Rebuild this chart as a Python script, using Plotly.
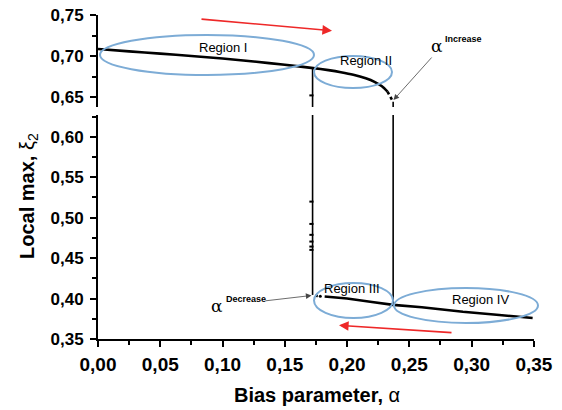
import plotly.graph_objects as go

# ---------------- data ----------------
alpha_up = [0.0, 0.025, 0.05, 0.075, 0.10, 0.125, 0.15, 0.1729, 0.185, 0.195, 0.205, 0.215, 0.222, 0.228, 0.2325]
xi_up = [0.7086, 0.7058, 0.7030, 0.7001, 0.6970, 0.6934, 0.6894, 0.6853, 0.6828, 0.6803, 0.6772, 0.6728, 0.6685, 0.6630, 0.6565]
alpha_up_dot = [0.2325, 0.2345, 0.2360, 0.2370]
xi_up_dot = [0.6565, 0.6505, 0.6465, 0.6440]

alpha_lo = [0.182, 0.20, 0.22, 0.237, 0.26, 0.293, 0.32, 0.349]
xi_lo = [0.4026, 0.4000, 0.3958, 0.3922, 0.3893, 0.3836, 0.3800, 0.3759]
alpha_lo_dash = [0.1745, 0.1765]
xi_lo_dash = [0.4035, 0.4032]

alpha_jump_down = 0.1723   # alpha^Decrease
alpha_jump_up = 0.2370     # alpha^Increase
scatter_top = [0.6519]
scatter_bot = [0.5199, 0.4923, 0.4788, 0.4705, 0.4643, 0.4602]

x_ticks = [0.0, 0.05, 0.10, 0.15, 0.20, 0.25, 0.30, 0.35]

# ---------------- geometry helpers (pixel -> paper) ----------------
W, H = 562, 410
ML, MR, MT, MB = 98, 28, 15, 71
PW, PH = W - ML - MR, H - MT - MB


def px(x):
    return (x - ML) / PW


def py(y):
    return (H - MB - y) / PH


BLACK = "black"
BLUE = "rgb(125,172,214)"
RED = "rgb(238,40,40)"

fig = go.Figure()

# upper branch (top sub-axis)
fig.add_trace(go.Scatter(x=alpha_up, y=xi_up, yaxis="y2", mode="lines",
                         line=dict(color=BLACK, width=2.6, shape="spline", smoothing=0.6),
                         hoverinfo="skip"))
fig.add_trace(go.Scatter(x=alpha_up_dot, y=xi_up_dot, yaxis="y2", mode="lines",
                         line=dict(color=BLACK, width=2.6, dash="dot"), hoverinfo="skip"))
# vertical jumps, top part
fig.add_trace(go.Scatter(x=[alpha_jump_down, alpha_jump_down], y=[xi_up[7], 0.60], yaxis="y2",
                         mode="lines", line=dict(color=BLACK, width=1.6), hoverinfo="skip"))
fig.add_trace(go.Scatter(x=[alpha_jump_up, alpha_jump_up], y=[xi_up_dot[-1], 0.60], yaxis="y2",
                         mode="lines", line=dict(color=BLACK, width=1.6), hoverinfo="skip"))
fig.add_trace(go.Scatter(x=[alpha_jump_down - 0.0009] * len(scatter_top), y=scatter_top, yaxis="y2",
                         mode="markers", marker=dict(symbol="line-ew", size=3,
                                                     line=dict(color=BLACK, width=2)),
                         hoverinfo="skip"))
# vertical jumps, bottom part
fig.add_trace(go.Scatter(x=[alpha_jump_down, alpha_jump_down], y=[0.70, 0.4045], yaxis="y",
                         mode="lines", line=dict(color=BLACK, width=1.6), hoverinfo="skip"))
fig.add_trace(go.Scatter(x=[alpha_jump_up, alpha_jump_up], y=[0.70, xi_lo[3]], yaxis="y",
                         mode="lines", line=dict(color=BLACK, width=1.6), hoverinfo="skip"))
fig.add_trace(go.Scatter(x=[alpha_jump_down - 0.0009] * len(scatter_bot), y=scatter_bot, yaxis="y",
                         mode="markers", marker=dict(symbol="line-ew", size=3,
                                                     line=dict(color=BLACK, width=2)),
                         hoverinfo="skip"))
# lower branch
fig.add_trace(go.Scatter(x=alpha_lo, y=xi_lo, yaxis="y", mode="lines",
                         line=dict(color=BLACK, width=2.6), hoverinfo="skip"))
fig.add_trace(go.Scatter(x=alpha_lo_dash, y=xi_lo_dash, yaxis="y", mode="lines",
                         line=dict(color=BLACK, width=2.6), hoverinfo="skip"))
fig.add_trace(go.Scatter(x=[0.1785], y=[0.4030], yaxis="y", mode="markers",
                         marker=dict(color=BLACK, size=3), hoverinfo="skip"))

# ---------------- ellipses ----------------
ellipses = [(100, 35, 314, 75), (314, 56, 392, 88), (314, 283, 393, 318), (394, 288, 538, 323)]
for (x0, y0, x1, y1) in ellipses:
    fig.add_shape(type="circle", xref="paper", yref="paper",
                  x0=px(x0), x1=px(x1), y0=py(y1), y1=py(y0),
                  line=dict(color=BLUE, width=2), layer="above")

# ---------------- annotations ----------------
ann = []
for text, x, y in [("Region I", 223, 47), ("Region II", 366, 61),
                   ("Region III", 352, 288), ("Region IV", 480, 299)]:
    ann.append(dict(text=text, x=px(x), y=py(y), xref="paper", yref="paper",
                    showarrow=False, xanchor="center", yanchor="middle",
                    font=dict(family="Liberation Sans, Arial", size=13, color=BLACK)))

# red arrows
for (tx, ty, hx, hy) in [(200, 19, 332, 30.7), (453, 332.7, 339, 325.3)]:
    ann.append(dict(text="", x=px(hx), y=py(hy), ax=tx - hx, ay=ty - hy,
                    xref="paper", yref="paper", axref="pixel", ayref="pixel",
                    showarrow=True, arrowhead=2, arrowsize=1.2, arrowwidth=1.6,
                    arrowcolor=RED))
# alpha arrows
for (tx, ty, hx, hy) in [(433, 56, 393.5, 100), (264, 301, 311.5, 295.5)]:
    ann.append(dict(text="", x=px(hx), y=py(hy), ax=tx - hx, ay=ty - hy,
                    xref="paper", yref="paper", axref="pixel", ayref="pixel",
                    showarrow=True, arrowhead=2, arrowsize=1.4, arrowwidth=0.8,
                    arrowcolor="rgb(70,70,70)"))

ann.append(dict(text="α", x=px(437), y=py(46), xref="paper", yref="paper", showarrow=False,
                xanchor="center", yanchor="middle",
                font=dict(family="DejaVu Serif", size=17, color=BLACK)))
ann.append(dict(text="<b>Increase</b>", x=px(443), y=py(39), xref="paper", yref="paper",
                showarrow=False, xanchor="left", yanchor="middle",
                font=dict(family="Liberation Sans, Arial", size=9, color=BLACK)))
ann.append(dict(text="α", x=px(217), y=py(306), xref="paper", yref="paper", showarrow=False,
                xanchor="center", yanchor="middle",
                font=dict(family="DejaVu Serif", size=17, color=BLACK)))
ann.append(dict(text="<b>Decrease</b>", x=px(224), y=py(298.5), xref="paper", yref="paper",
                showarrow=False, xanchor="left", yanchor="middle",
                font=dict(family="Liberation Sans, Arial", size=9, color=BLACK)))

# axis titles
ann.append(dict(text="<b>Bias parameter, </b>α", x=px(317), y=py(395), xref="paper", yref="paper",
                showarrow=False, xanchor="center", yanchor="middle",
                font=dict(family="Liberation Sans, Arial", size=20, color=BLACK)))
ann.append(dict(text="<b>Local max, </b>ξ<sub>2</sub>", x=px(28), y=py(196), xref="paper",
                yref="paper", showarrow=False, textangle=-90, xanchor="center", yanchor="middle",
                font=dict(family="Liberation Sans, Arial", size=20, color=BLACK)))

tickfont_y = dict(family="Liberation Sans, Arial", size=17, color=BLACK, weight="bold")
tickfont_x = dict(family="Liberation Sans, Arial", size=19, color=BLACK, weight="bold")
minor = dict(dtick=0.025, tick0=0, ticklen=4, tickwidth=1.5, tickcolor=BLACK, ticks="outside",
             showgrid=False)

d_bot_top = (H - MB - 115) / PH
d_top_bot = (H - MB - 107) / PH

fig.update_layout(
    width=W, height=H, margin=dict(l=ML, r=MR, t=MT, b=MB, autoexpand=False),
    paper_bgcolor="white", plot_bgcolor="white", showlegend=False,
    separators=",.",
    annotations=ann,
    xaxis=dict(range=[0, 0.3501], tickvals=x_ticks, tickformat=".2f", ticks="outside",
               ticklen=6, tickwidth=2, tickcolor=BLACK, showline=True, linewidth=2,
               linecolor=BLACK, showgrid=False, zeroline=False, tickfont=tickfont_x,
               anchor="y", minor=minor, automargin=False, ticklabelstandoff=1),
    yaxis=dict(domain=[0, d_bot_top], range=[0.35, 0.627], dtick=0.05, tick0=0,
               tickformat=".2f", ticks="outside", ticklen=6, tickwidth=2, tickcolor=BLACK,
               showline=True, linewidth=2, linecolor=BLACK, showgrid=False, zeroline=False,
               tickfont=tickfont_y, anchor="x", minor=minor, automargin=False,
               ticklabelstandoff=3),
    yaxis2=dict(domain=[d_top_bot, 1], range=[0.6377, 0.7503], dtick=0.05, tick0=0,
                tickformat=".2f", ticks="outside", ticklen=6, tickwidth=2, tickcolor=BLACK,
                showline=True, linewidth=2, linecolor=BLACK, showgrid=False, zeroline=False,
                tickfont=tickfont_y, anchor="x", minor=minor, automargin=False,
                ticklabelstandoff=3),
)

fig.write_html("out.html")
